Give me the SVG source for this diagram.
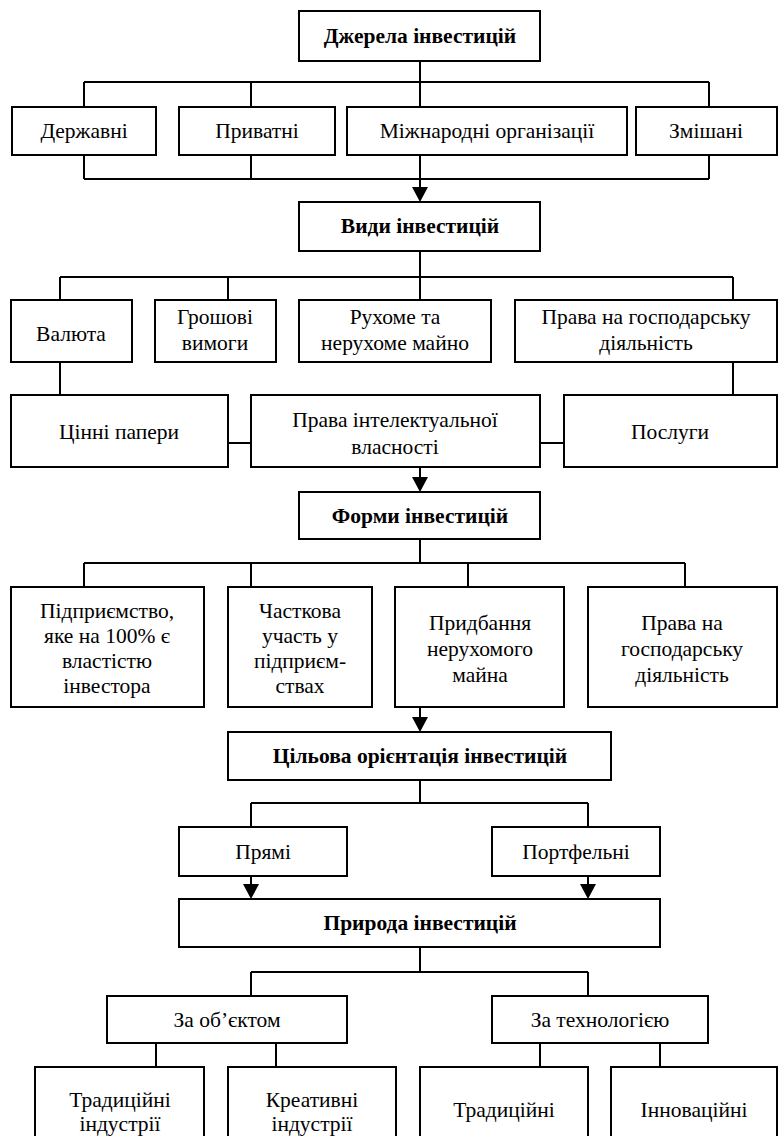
<svg xmlns="http://www.w3.org/2000/svg" width="779" height="1136" viewBox="0 0 779 1136">
<style>
.b{fill:#fff;stroke:#000;stroke-width:2}
.t{font-family:'Liberation Serif','DejaVu Serif',serif;font-size:21.5px;fill:#000;text-anchor:middle;dominant-baseline:central}
.h{font-weight:bold}
.c{fill:none;stroke:#000;stroke-width:2}
</style>
<defs>
<marker id="arr" viewBox="0 0 15 16" refX="11" refY="8" markerWidth="15" markerHeight="16" markerUnits="userSpaceOnUse" orient="auto">
<path d="M0,0 L15,8 L0,16 z" fill="#000"/>
</marker>
</defs>
<rect width="779" height="1136" fill="#fff"/>
<g id="connectors">
<path class="c" d="M420,61 V82 M84,82 H709 M84,82 V107 M251,82 V107 M420,82 V107 M709,82 V107"/>
<path class="c" d="M84,155 V179 M251,155 V179 M420,155 V179 M709,155 V179 M84,179 H709"/>
<path class="c" d="M420,179 V198" marker-end="url(#arr)"/>
<path class="c" d="M420,251 V277 M60,277 H733 M60,277 V300 M228,277 V300 M420,277 V300 M733,277 V300"/>
<path class="c" d="M60,362 V395 M733,362 V395 M228,443 H251 M540,443 H564"/>
<path class="c" d="M420,467 V488" marker-end="url(#arr)"/>
<path class="c" d="M420,539 V563 M84,563 H685 M84,563 V587 M251,563 V587 M468,563 V587 M685,563 V587"/>
<path class="c" d="M420,707 V728" marker-end="url(#arr)"/>
<path class="c" d="M420,780 V803 M251,803 H588 M251,803 V827 M588,803 V827"/>
<path class="c" d="M251,876 V895" marker-end="url(#arr)"/>
<path class="c" d="M588,876 V895" marker-end="url(#arr)"/>
<path class="c" d="M420,947 V972 M251,972 H588 M251,972 V996 M588,972 V996"/>
<path class="c" d="M156,1043 V1067 M276,1043 V1067 M540,1043 V1067 M660,1043 V1067"/>
</g>
<g id="n-dzherela"><rect class="b" x="299" y="11" width="241" height="50"/><text class="t h" x="420" y="36">Джерела інвестицій</text></g>
<g id="n-derzhavni"><rect class="b" x="12" y="107" width="144" height="48"/><text class="t" x="84" y="131">Державні</text></g>
<g id="n-pryvatni"><rect class="b" x="179" y="107" width="156" height="48"/><text class="t" x="257" y="131">Приватні</text></g>
<g id="n-mizhnarodni"><rect class="b" x="347" y="107" width="280" height="48"/><text class="t" x="487" y="131">Міжнародні організації</text></g>
<g id="n-zmishani"><rect class="b" x="636" y="107" width="141" height="48"/><text class="t" x="706" y="131">Змішані</text></g>
<g id="n-vydy"><rect class="b" x="299" y="202" width="241" height="49"/><text class="t h" x="420" y="226">Види інвестицій</text></g>
<g id="n-valyuta"><rect class="b" x="11" y="300" width="121" height="62"/><text class="t" x="71" y="334">Валюта</text></g>
<g id="n-groshovi"><rect class="b" x="155" y="300" width="121" height="62"/><text class="t" x="215" y="317">Грошові</text><text class="t" x="215" y="343">вимоги</text></g>
<g id="n-rukhome"><rect class="b" x="299" y="300" width="192" height="62"/><text class="t" x="395" y="317">Рухоме та</text><text class="t" x="395" y="343">нерухоме майно</text></g>
<g id="n-prava1"><rect class="b" x="515" y="300" width="262" height="62"/><text class="t" x="646" y="317">Права на господарську</text><text class="t" x="646" y="343">діяльність</text></g>
<g id="n-tsinni"><rect class="b" x="11" y="395" width="217" height="72"/><text class="t" x="119" y="432">Цінні папери</text></g>
<g id="n-intelekt"><rect class="b" x="251" y="395" width="289" height="72"/><text class="t" x="395" y="420">Права інтелектуальної</text><text class="t" x="395" y="447">власності</text></g>
<g id="n-posluhy"><rect class="b" x="564" y="395" width="213" height="72"/><text class="t" x="670" y="432">Послуги</text></g>
<g id="n-formy"><rect class="b" x="299" y="492" width="241" height="47"/><text class="t h" x="420" y="516">Форми інвестицій</text></g>
<g id="n-pidpr"><rect class="b" x="11" y="587" width="193" height="120"/><text class="t" x="107" y="611">Підприємство,</text><text class="t" x="107" y="636">яке на 100% є</text><text class="t" x="107" y="661">властістю</text><text class="t" x="107" y="686">інвестора</text></g>
<g id="n-chastkova"><rect class="b" x="228" y="587" width="144" height="120"/><text class="t" x="300" y="611">Часткова</text><text class="t" x="300" y="636">участь у</text><text class="t" x="300" y="661">підприєм-</text><text class="t" x="300" y="686">ствах</text></g>
<g id="n-prydbannya"><rect class="b" x="395" y="587" width="169" height="120"/><text class="t" x="480" y="623">Придбання</text><text class="t" x="480" y="649">нерухомого</text><text class="t" x="480" y="675">майна</text></g>
<g id="n-prava2"><rect class="b" x="588" y="587" width="189" height="120"/><text class="t" x="682" y="623">Права на</text><text class="t" x="682" y="649">господарську</text><text class="t" x="682" y="675">діяльність</text></g>
<g id="n-tsilova"><rect class="b" x="228" y="732" width="383" height="48"/><text class="t h" x="420" y="756">Цільова орієнтація інвестицій</text></g>
<g id="n-pryami"><rect class="b" x="179" y="827" width="168" height="49"/><text class="t" x="263" y="852">Прямі</text></g>
<g id="n-portfelni"><rect class="b" x="492" y="827" width="168" height="49"/><text class="t" x="576" y="852">Портфельні</text></g>
<g id="n-pryroda"><rect class="b" x="179" y="899" width="481" height="48"/><text class="t h" x="420" y="923">Природа інвестицій</text></g>
<g id="n-obyekt"><rect class="b" x="107" y="996" width="240" height="47"/><text class="t" x="227" y="1020">За об’єктом</text></g>
<g id="n-tekhnol"><rect class="b" x="492" y="996" width="216" height="47"/><text class="t" x="600" y="1020">За технологією</text></g>
<g id="n-trad-ind"><rect class="b" x="35" y="1067" width="169" height="80"/><text class="t" x="120" y="1100">Традиційні</text><text class="t" x="120" y="1124">індустрії</text></g>
<g id="n-kreat"><rect class="b" x="228" y="1067" width="168" height="80"/><text class="t" x="312" y="1100">Креативні</text><text class="t" x="312" y="1124">індустрії</text></g>
<g id="n-trad"><rect class="b" x="420" y="1067" width="168" height="80"/><text class="t" x="504" y="1110">Традиційні</text></g>
<g id="n-innov"><rect class="b" x="611" y="1067" width="166" height="80"/><text class="t" x="694" y="1110">Інноваційні</text></g>
</svg>
